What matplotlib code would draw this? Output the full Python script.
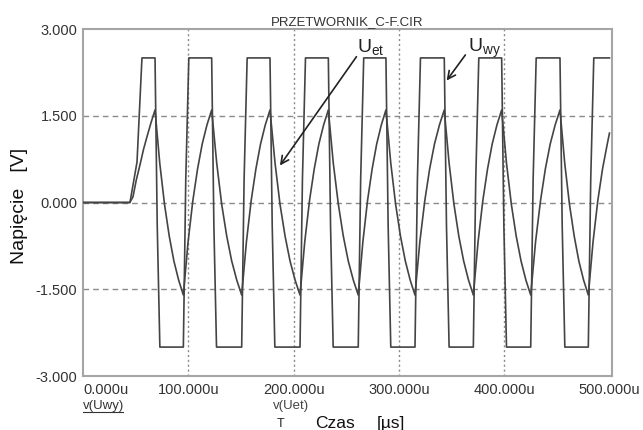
import matplotlib
matplotlib.use('Agg')
import matplotlib.pyplot as plt
from matplotlib.lines import Line2D

plt.rcParams['font.family'] = ['Liberation Sans', 'DejaVu Sans']
plt.rcParams['mathtext.fontset'] = 'custom'
plt.rcParams['mathtext.rm'] = 'Liberation Sans'
plt.rcParams['mathtext.it'] = 'Liberation Sans:italic'

# czas [us] i napiecie [V] odczytane z wykresu
# v(Uwy) - wyjscie komparatora (prostokat)
uwy_t = [0.0, 44.6, 51.3, 56.0,
         68.4, 70.5, 73.0, 95.3, 97.6, 100.5,
         122.2, 124.3, 126.8, 150.7, 153.0, 155.9,
         177.6, 179.7, 182.2, 206.1, 208.4, 211.3,
         233.0, 235.1, 237.6, 261.4, 263.7, 266.6,
         287.7, 289.8, 292.3, 315.3, 317.6, 320.5,
         343.1, 345.2, 347.7, 370.7, 373.0, 375.9,
         397.6, 399.7, 402.2, 425.2, 427.5, 430.4,
         453.0, 455.1, 457.6, 479.9, 482.2, 485.1,
         500.0]
uwy_v = [0.0, 0.0, 0.7, 2.5,
         2.5, -0.4, -2.5, -2.5, 0.4, 2.5,
         2.5, -0.4, -2.5, -2.5, 0.4, 2.5,
         2.5, -0.4, -2.5, -2.5, 0.4, 2.5,
         2.5, -0.4, -2.5, -2.5, 0.4, 2.5,
         2.5, -0.4, -2.5, -2.5, 0.4, 2.5,
         2.5, -0.4, -2.5, -2.5, 0.4, 2.5,
         2.5, -0.4, -2.5, -2.5, 0.4, 2.5,
         2.5, -0.4, -2.5, -2.5, 0.4, 2.5,
         2.5]

# v(Uet) - napiecie na kondensatorze
uet_t = [0.0, 44.5, 47.5, 50.5, 54.1, 57.5, 60.8, 64.6, 68.4,
         72.9, 77.4, 81.9, 86.3, 90.8, 95.3,
         99.8, 104.3, 108.8, 113.2, 117.7, 122.2,
         127.0, 131.7, 136.5, 141.2, 146.0, 150.7,
         155.2, 159.7, 164.2, 168.6, 173.1, 177.6,
         182.4, 187.1, 191.9, 196.6, 201.4, 206.1,
         210.6, 215.1, 219.6, 224.0, 228.5, 233.0,
         237.7, 242.5, 247.2, 251.9, 256.7, 261.4,
         265.8, 270.2, 274.6, 278.9, 283.3, 287.7,
         292.3, 296.9, 301.5, 306.1, 310.7, 315.3,
         319.9, 324.6, 329.2, 333.8, 338.5, 343.1,
         347.7, 352.3, 356.9, 361.5, 366.1, 370.7,
         375.2, 379.7, 384.2, 388.6, 393.1, 397.6,
         402.2, 406.8, 411.4, 416.0, 420.6, 425.2,
         429.8, 434.5, 439.1, 443.7, 448.4, 453.0,
         457.5, 462.0, 466.5, 470.9, 475.4, 479.9,
         484.4, 488.9, 493.4, 497.9, 500.0]
uet_v = [0.0, 0.0, 0.1, 0.38, 0.65, 0.92, 1.14, 1.38, 1.6,
         0.68, -0.03, -0.58, -1.01, -1.34, -1.6,
         -0.68, 0.03, 0.58, 1.01, 1.34, 1.6,
         0.68, -0.03, -0.58, -1.01, -1.34, -1.6,
         -0.68, 0.03, 0.58, 1.01, 1.34, 1.6,
         0.68, -0.03, -0.58, -1.01, -1.34, -1.6,
         -0.68, 0.03, 0.58, 1.01, 1.34, 1.6,
         0.68, -0.03, -0.58, -1.01, -1.34, -1.6,
         -0.68, 0.03, 0.58, 1.01, 1.34, 1.6,
         0.68, -0.03, -0.58, -1.01, -1.34, -1.6,
         -0.68, 0.03, 0.58, 1.01, 1.34, 1.6,
         0.68, -0.03, -0.58, -1.01, -1.34, -1.6,
         -0.68, 0.03, 0.58, 1.01, 1.34, 1.6,
         0.68, -0.03, -0.58, -1.01, -1.34, -1.6,
         -0.68, 0.03, 0.58, 1.01, 1.34, 1.6,
         0.68, -0.03, -0.58, -1.01, -1.34, -1.6,
         -0.68, 0.03, 0.58, 1.01, 1.2]

x_ticks = [0, 100, 200, 300, 400, 500]
x_labels = ['0.000u', '100.000u', '200.000u', '300.000u', '400.000u', '500.000u']
y_ticks = [-3.0, -1.5, 0.0, 1.5, 3.0]
y_labels = ['-3.000', '-1.500', '0.000', '1.500', '3.000']

W, H = 643, 430
fig = plt.figure(figsize=(W / 100, H / 100), dpi=100)
ax = fig.add_axes([83 / W, 1 - 376 / H, (612 - 83) / W, (376 - 29) / H])

trace = '#444444'
ax.plot(uwy_t, uwy_v, color=trace, lw=1.2, zorder=3)
ax.plot(uet_t, uet_v, color=trace, lw=1.2, zorder=3)

ax.set_xlim(0, 502.4)
ax.set_ylim(-3, 3)

# siatka: poziome kreskowane, pionowe kropkowane
for y in y_ticks[1:-1]:
    ax.axhline(y, color='#8a8a8a', lw=1.0, ls=(0, (4, 3)), zorder=1)
for x in x_ticks[1:-1]:
    ax.axvline(x, color='#8a8a8a', lw=1.0, ls=(0, (1.5, 2)), zorder=1)

for s in ax.spines.values():
    s.set_color('#a5a5a5')
    s.set_linewidth(1.5)

ax.set_xticks(x_ticks, labels=x_labels)
ax.set_yticks(y_ticks, labels=y_labels)
ax.tick_params(length=0, labelsize=10.5, labelcolor='#333333')
ax.tick_params(axis='x', pad=5)
ax.tick_params(axis='y', pad=4)
ax.get_xticklabels()[0].set_horizontalalignment('left')

# opisy przebiegow
ax.text(260.2, 2.61, r'$\mathrm{U_{et}}$', fontsize=14, color='#222222',
        ha='left', va='baseline', clip_on=False)
ax.text(365.6, 2.61, r'$\mathrm{U_{wy}}$', fontsize=14, color='#222222',
        ha='left', va='baseline', clip_on=False)
arrow = dict(arrowstyle='->', color='#222222', lw=1.2, mutation_scale=14)
ax.annotate('', xy=(185.5, 0.60), xytext=(261.2, 2.56), arrowprops=arrow)
ax.annotate('', xy=(343.8, 2.07), xytext=(364.7, 2.59), arrowprops=arrow)

fig.text(347.5 / W, 1 - 25 / H, 'PRZETWORNIK_C-F.CIR', fontsize=9.5,
         color='#333333', ha='center', va='baseline')
fig.text(20 / W, 1 - 206 / H, 'Napięcie   [V]', fontsize=14, rotation=90,
         ha='center', va='center', color='#111111')

fig.text(83 / W, 1 - 409 / H, 'v(Uwy)', fontsize=9.5, color='#333333',
         ha='left', va='baseline')
fig.add_artist(Line2D([83 / W, 123 / W], [1 - 412 / H, 1 - 412 / H],
                      color='#333333', lw=0.8))
fig.text(273 / W, 1 - 409 / H, 'v(Uet)', fontsize=9.5, color='#444444',
         ha='left', va='baseline')
fig.text(277 / W, 1 - 427 / H, 'T', fontsize=9, color='#222222',
         ha='left', va='baseline')
fig.text(315 / W, 1 - 428 / H, 'Czas', fontsize=12.5, color='#111111',
         ha='left', va='baseline')
fig.text(377 / W, 1 - 428 / H, '[µs]', fontsize=12.5, color='#111111',
         ha='left', va='baseline')

fig.savefig('out.png', dpi=100)
